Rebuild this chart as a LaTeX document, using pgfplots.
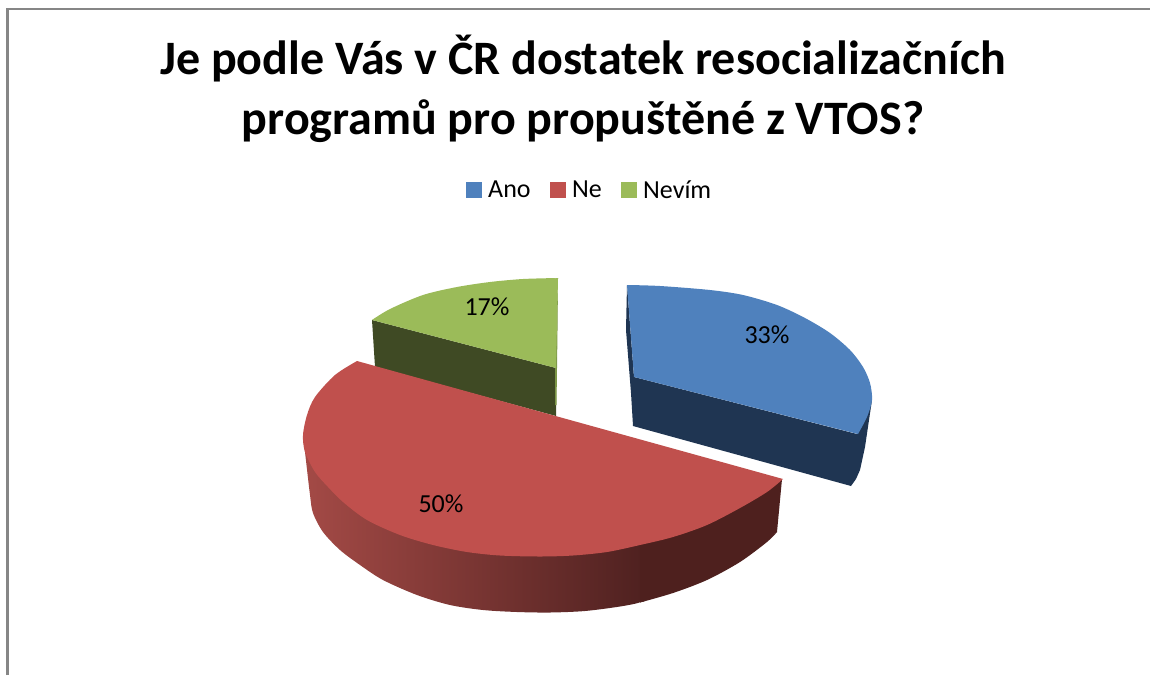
\documentclass[border=0pt]{standalone}
\usepackage{fontspec}
\setmainfont{Carlito}
\usepackage{pgfplots}
\pgfplotsset{compat=1.18}
\definecolor{ano}{HTML}{4F81BD}
\definecolor{ne}{HTML}{C0504D}
\definecolor{nevim}{HTML}{9BBB59}
\definecolor{anoside}{HTML}{1F3552}
\definecolor{nevimside}{HTML}{3F4A24}
\definecolor{nesideL}{HTML}{A44A46}
\definecolor{nesideD}{HTML}{4D201F}
\definecolor{nesideR}{HTML}{4E201E}
\definecolor{frame}{HTML}{868686}
\begin{document}
\begin{tikzpicture}
\path[use as bounding box] (0,0) rectangle (1150pt,675pt);
\begin{axis}[
  at={(0,0)}, anchor=south west,
  scale only axis, width=1150pt, height=675pt,
  xmin=0, xmax=1150, ymin=0, ymax=675, y dir=reverse,
  axis lines=none, clip=false,
  title={Je podle Vás v ČR dostatek resocializačních\\programů pro propuštěné z VTOS?},
  title style={at={(axis cs:583,95)}, anchor=center, align=center, inner sep=0pt,
    font=\fontsize{48}{60}\selectfont\bfseries},
  legend columns=3,
  legend style={draw=none, fill=none, at={(axis cs:589.5,190)}, anchor=center, font=\fontsize{26}{30}\selectfont,
    /tikz/every even column/.style={column sep=17pt},
    /tikz/every odd column/.style={column sep=5pt}, inner sep=0pt, outer sep=0pt},
  legend image code/.code={\fill[#1] (0pt,-7.5pt) rectangle (15pt,7.5pt);},
]
% frame
\addplot[frame, line width=2.2pt, forget plot] coordinates {(7.5,675) (7.5,9) (1150,9)};
% legend
\addlegendimage{ano}\addlegendentry{Ano}
\addlegendimage{ne}\addlegendentry{Ne}
\addlegendimage{nevim}\addlegendentry{Nevím}
% Nevim: side, sliver, top
\addplot[fill=nevimside, draw=none, forget plot] coordinates {(372,320) (556,368) (556,416) (375,367)} --cycle;
\addplot[fill=nevim!80!black, draw=none, forget plot] coordinates {(558,278) (557.5,330) (556.5,405) (555,405) (555,368)} --cycle;
\addplot[fill=nevim, draw=none, forget plot] coordinates {(372,320) (440,291) (558,278) (556,368)} --cycle;
\addplot[fill=nevim, draw=none, forget plot, smooth] coordinates {(372,320) (390,309) (423,295) (457,287) (490,282) (523,279) (558,278)} --cycle;
% Ne: side left (shaded), side right, top
\addplot[left color=nesideL, right color=nesideD, draw=none, forget plot, smooth] coordinates {(303,435) (305,452) (310,495) (313,513) (323,532) (340,550) (360,565) (383,580) (417,595) (450,605) (483,610) (517,612) (550,612.5) (585,611) (620,606.5) (641,602) (645,596) (645,540) (600,500)} --cycle;
\addplot[fill=nesideR, draw=none, forget plot, smooth] coordinates {(640,602.5) (673,593) (707,580) (740,562) (767,542) (777,532)} --cycle;
\addplot[fill=nesideR, draw=none, forget plot] coordinates {(640,602.5) (700,580) (777,532) (782,479) (640,530)} --cycle;
\addplot[fill=ne, draw=none, forget plot, smooth] coordinates {(357,361) (335,375) (315,397) (307,415) (303,435) (305,452) (315,472) (328,487) (343,502) (367,520) (400,535) (433,545) (467,552) (500,555.5) (540,556.5) (573,555.5) (607,552) (640,545) (673,537) (707,525) (740,508) (767,492) (783,479)} --cycle;
% Ano: side, top
\addplot[fill=anoside, draw=none, forget plot] coordinates {(627,285) (626,330) (631,393) (633,426) (851,486) (856,479) (860,470) (865,447) (869,420) (872,400) (857,434) (634,377)} --cycle;
\addplot[fill=ano, draw=none, forget plot] coordinates {(627,285) (743,297) (858,434) (634,377)} --cycle;
\addplot[fill=ano, draw=none, forget plot, smooth] coordinates {(627,285) (660,286) (710,290) (743,295) (777,305) (805,318) (830,333) (850,350) (863,367) (870,383) (872,400) (867,417) (858,434)} --cycle;
% data labels
\node[font=\fontsize{26}{30}\selectfont] at (axis cs:767,335) {33\%};
\node[font=\fontsize{26}{30}\selectfont] at (axis cs:487,307) {17\%};
\node[font=\fontsize{26}{30}\selectfont] at (axis cs:441,504) {50\%};
\end{axis}
\end{tikzpicture}
\end{document}
